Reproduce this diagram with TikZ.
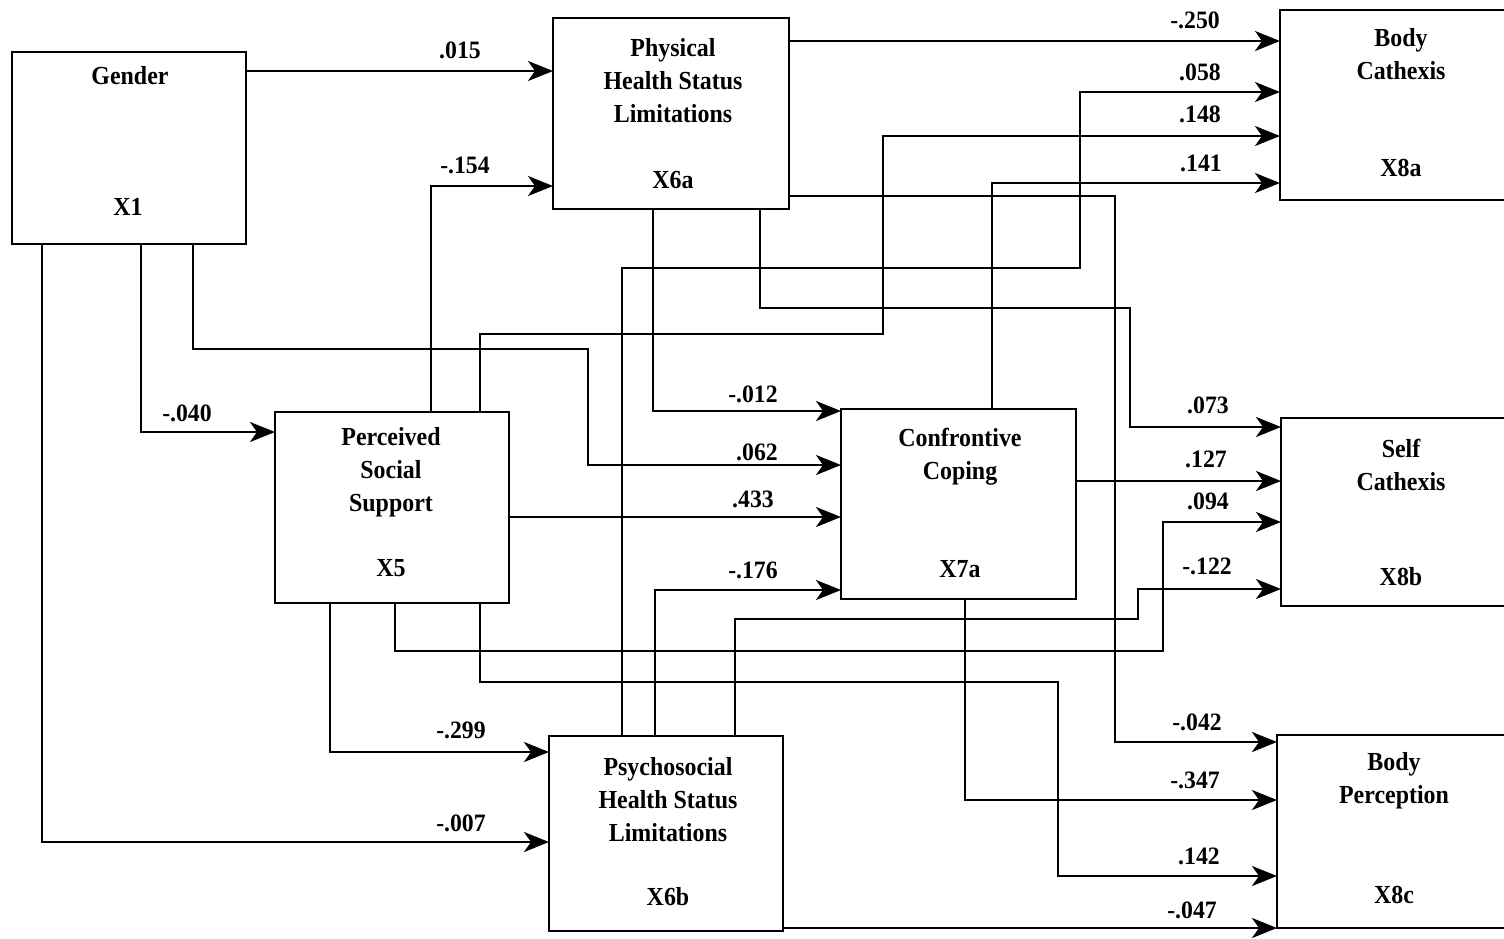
\documentclass[tikz,border=0pt]{standalone}
\usepackage{fontspec}
\setmainfont{Liberation Serif}
\usetikzlibrary{arrows.meta}
\tikzset{
  box/.style={draw, line width=2.6pt, inner sep=0pt, outer sep=0pt, rectangle},
  arr/.style={line width=2.5pt, -{Stealth[length=25pt,width=20pt,inset=7pt]}},
  txt/.style={font=\bfseries\fontsize{26}{33}\selectfont, align=center, inner sep=0pt, xscale=0.92, transform shape},
  lbl/.style={font=\bfseries\fontsize{25}{30}\selectfont, inner sep=0pt, xscale=0.95, transform shape}
}
\begin{document}
\begin{tikzpicture}[x=1pt,y=-1pt]
\useasboundingbox (0,0) rectangle (1504,938);
\clip (0,0) rectangle (1504,938);
% boxes
\node[box, minimum width=234pt, minimum height=192pt] (g)   at (129,148)   {};
\node[box, minimum width=236pt, minimum height=191pt] (p6a) at (671,113.5) {};
\node[box, minimum width=280pt, minimum height=190pt] (x8a) at (1420,105)  {};
\node[box, minimum width=234pt, minimum height=191pt] (x5)  at (392,507.5) {};
\node[box, minimum width=235pt, minimum height=190pt] (x7a) at (958.5,504) {};
\node[box, minimum width=279pt, minimum height=188pt] (x8b) at (1420.5,512) {};
\node[box, minimum width=234pt, minimum height=195pt] (x6b) at (666,833.5) {};
\node[box, minimum width=283pt, minimum height=193pt] (x8c) at (1418.5,831.5) {};
% box texts
\node[txt] (tg)   at (130,76)  {Gender};
\node[txt] (tg2)  at (128,207) {X1};
\node[txt] (tp)   at (673,81)  {Physical\\Health Status\\Limitations};
\node[txt] (tp2)  at (673,180) {X6a};
\node[txt] (t8a)  at (1401,54) {Body\\Cathexis};
\node[txt] (t8a2) at (1401,168) {X8a};
\node[txt] (t5)   at (391,472) {Perceived\\Social\\Support};
\node[txt] (t52)  at (391,568) {X5};
\node[txt] (t7)   at (960,457) {Confrontive\\Coping};
\node[txt] (t72)  at (960,569) {X7a};
\node[txt] (t8b)  at (1401,465) {Self\\Cathexis};
\node[txt] (t8b2) at (1401,577) {X8b};
\node[txt] (t6b)  at (668,800) {Psychosocial\\Health Status\\Limitations};
\node[txt] (t6b2) at (668,897) {X6b};
\node[txt] (t8c)  at (1394,781) {Body\\Perception};
\node[txt] (t8c2) at (1394,895) {X8c};
% connectors
\draw[arr] (g.east |- 0,71) -- (p6a.west |- 0,71);
\draw[arr] (x5.north -| 431,0) |- (p6a.west |- 0,186);
\draw[arr] (g.south -| 141,0) |- (x5.west |- 0,432);
\draw[arr] (g.south -| 193,0) |- (588,349) |- (x7a.west |- 0,465);
\draw[arr] (g.south -| 42,0) |- (x6b.west |- 0,842);
\draw[arr] (p6a.east |- 0,41) -- (x8a.west |- 0,41);
\draw[arr] (x6b.north -| 622,0) |- (1080,268) |- (x8a.west |- 0,92);
\draw[arr] (x5.north -| 480,0) |- (883,334) |- (x8a.west |- 0,136);
\draw[arr] (x7a.north -| 992,0) |- (x8a.west |- 0,183);
\draw[arr] (p6a.east |- 0,196) -| (1115,742) -- (x8c.west |- 0,742);
\draw[arr] (p6a.south -| 760,0) |- (1130,308) |- (x8b.west |- 0,427);
\draw[arr] (p6a.south -| 653,0) |- (x7a.west |- 0,411);
\draw[arr] (x5.east |- 0,517) -- (x7a.west |- 0,517);
\draw[arr] (x6b.north -| 655,0) |- (x7a.west |- 0,590);
\draw[arr] (x7a.east |- 0,481) -- (x8b.west |- 0,481);
\draw[arr] (x5.south -| 395,0) |- (1163,651) |- (x8b.west |- 0,522);
\draw[arr] (x6b.north -| 735,0) |- (1138,619) |- (x8b.west |- 0,589);
\draw[arr] (x7a.south -| 965,0) |- (x8c.west |- 0,800);
\draw[arr] (x5.south -| 480,0) |- (1058,682) |- (x8c.west |- 0,876);
\draw[arr] (x6b.east |- 0,928) -- (x8c.west |- 0,928);
\draw[arr] (x5.south -| 330,0) |- (x6b.west |- 0,752);
% labels
\node[lbl] (l1)  at (460,50)   {.015};
\node[lbl] (l2)  at (465,165)  {-.154};
\node[lbl] (l3)  at (187,413)  {-.040};
\node[lbl] (l4)  at (1195,20)  {-.250};
\node[lbl] (l5)  at (1200,72)  {.058};
\node[lbl] (l6)  at (1200,114) {.148};
\node[lbl] (l7)  at (1201,163) {.141};
\node[lbl] (l8)  at (753,394)  {-.012};
\node[lbl] (l9)  at (757,452)  {.062};
\node[lbl] (l10) at (753,499)  {.433};
\node[lbl] (l11) at (753,570)  {-.176};
\node[lbl] (l12) at (1208,405) {.073};
\node[lbl] (l13) at (1206,459) {.127};
\node[lbl] (l14) at (1208,501) {.094};
\node[lbl] (l15) at (1207,566) {-.122};
\node[lbl] (l16) at (461,730)  {-.299};
\node[lbl] (l17) at (461,823)  {-.007};
\node[lbl] (l18) at (1197,722) {-.042};
\node[lbl] (l19) at (1195,780) {-.347};
\node[lbl] (l20) at (1199,856) {.142};
\node[lbl] (l21) at (1192,910) {-.047};
\end{tikzpicture}
\end{document}
